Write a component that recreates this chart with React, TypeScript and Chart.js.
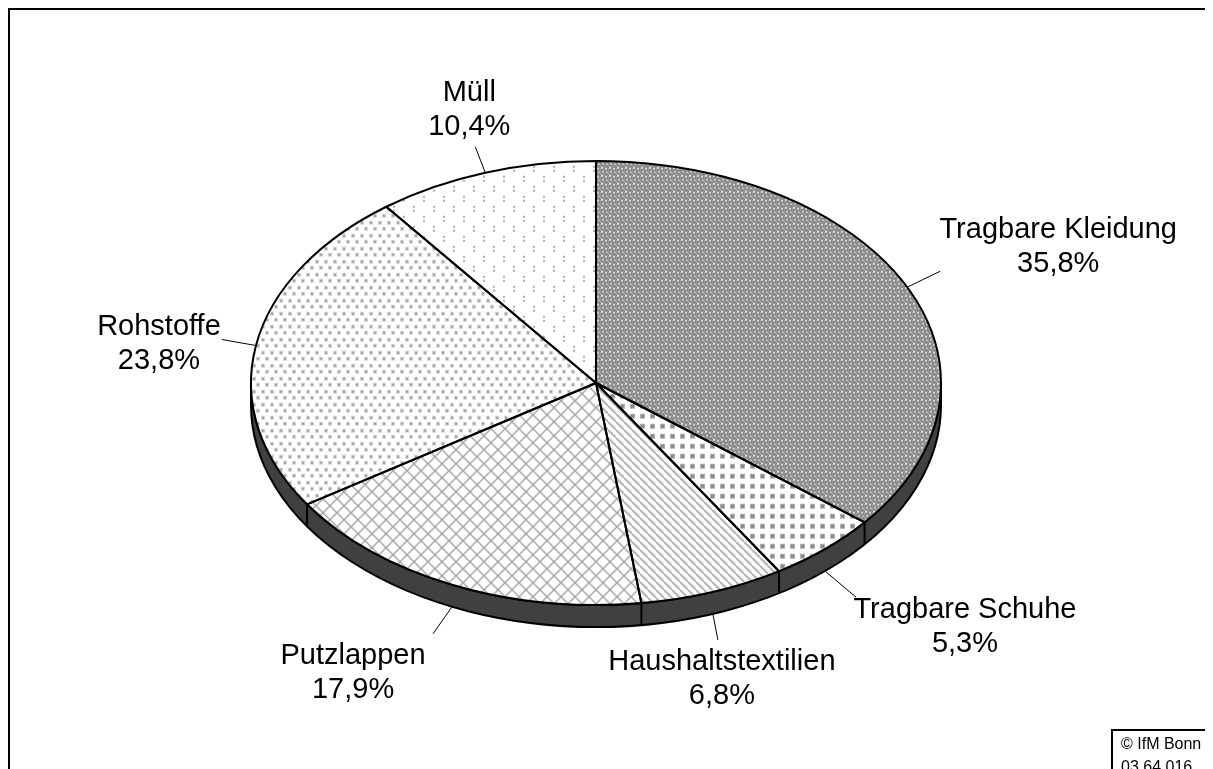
import React, { useEffect, useRef } from 'react';
import { Chart, registerables } from 'chart.js';

Chart.register(...registerables);

// ---- data ----
const categories = [
  'Tragbare Kleidung',
  'Tragbare Schuhe',
  'Haushaltstextilien',
  'Putzlappen',
  'Rohstoffe',
  'Müll',
];
const shares = [35.8, 5.3, 6.8, 17.9, 23.8, 10.4];

// ---- layout / style ----
const W = 1205;
const H = 761;
const K = 222 / 345; // vertical squash of the pie (tilt)
const DEPTH = 22;
const FONT = '29px "Liberation Sans", Arial, sans-serif';
// offsets from the slice's outer anchor point
const leaderEnds: [number, number][] = [
  [33, -16],
  [31, 26],
  [5, 26],
  [-19, 27],
  [-34, -6],
  [-10, -26],
];
const labelCenters: [number, number][] = [
  [151, -40],
  [140, 56],
  [9, 65],
  [-99, 66],
  [-97, -2],
  [-16, -63],
];

const fmt = (v: number) => v.toFixed(1).replace('.', ',') + '%';

function makeTile(w: number, h: number, draw: (g: CanvasRenderingContext2D) => void) {
  const c = document.createElement('canvas');
  c.width = w;
  c.height = h;
  const g = c.getContext('2d')!;
  draw(g);
  return c;
}

function makePatterns(): CanvasPattern[] {
  const tmp = document.createElement('canvas').getContext('2d')!;
  const pat = (tile: HTMLCanvasElement) => {
    const p = tmp.createPattern(tile, 'repeat')!;
    p.setTransform(new DOMMatrix([1, 0, 0, 1 / K, 0, 0]));
    return p;
  };
  const kleidung = makeTile(8, 8, (g) => {
    g.fillStyle = '#8a8a8a';
    g.fillRect(0, 0, 8, 8);
    const dots: [number, number, number, number, string][] = [
      [1, 1, 2, 2, '#dedede'],
      [5, 2, 2, 2, '#cfcfcf'],
      [2, 5, 2, 2, '#c6c6c6'],
      [6, 6, 2, 1, '#e0e0e0'],
      [0, 7, 1, 1, '#b0b0b0'],
      [4, 0, 1, 1, '#b8b8b8'],
      [0, 3, 1, 1, '#aaaaaa'],
    ];
    dots.forEach(([x, y, w, h, c]) => {
      g.fillStyle = c;
      g.fillRect(x, y, w, h);
    });
  });
  const schuhe = makeTile(10, 10, (g) => {
    g.fillStyle = '#fff';
    g.fillRect(0, 0, 10, 10);
    g.fillStyle = '#b0b0b0';
    g.fillRect(2, 2, 5, 5);
    g.fillStyle = '#888888';
    g.fillRect(3, 3, 3, 3);
  });
  const haushalt = makeTile(8, 8, (g) => {
    g.fillStyle = '#fff';
    g.fillRect(0, 0, 8, 8);
    g.strokeStyle = '#b0b0b0';
    g.lineWidth = 2;
    [-8, 0, 8].forEach((x0) => {
      g.beginPath();
      g.moveTo(x0, 0);
      g.lineTo(x0 + 8, 8);
      g.stroke();
    });
  });
  const putz = makeTile(14, 14, (g) => {
    g.fillStyle = '#fff';
    g.fillRect(0, 0, 14, 14);
    g.strokeStyle = '#a4a4a4';
    g.lineWidth = 1.4;
    [-14, 0, 14].forEach((x0) => {
      g.beginPath();
      g.moveTo(x0, 0);
      g.lineTo(x0 + 14, 14);
      g.stroke();
      g.beginPath();
      g.moveTo(x0 + 14, 0);
      g.lineTo(x0, 14);
      g.stroke();
    });
  });
  const roh = makeTile(9, 13, (g) => {
    g.fillStyle = '#fff';
    g.fillRect(0, 0, 9, 13);
    g.fillStyle = '#d4d4d4';
    g.fillRect(1, 1, 4, 4);
    g.fillRect(5, 7, 4, 4);
    g.fillStyle = '#a0a0a0';
    g.fillRect(2, 2, 2, 2);
    g.fillRect(6, 8, 2, 2);
  });
  const muell = makeTile(20, 20, (g) => {
    g.fillStyle = '#fff';
    g.fillRect(0, 0, 20, 20);
    g.fillStyle = '#b0b0b0';
    g.fillRect(5, 4, 2, 2);
    g.fillRect(5, 8, 2, 2);
    g.fillRect(15, 14, 2, 2);
    g.fillRect(15, 18, 2, 2);
  });
  return [kleidung, schuhe, haushalt, putz, roh, muell].map(pat);
}

const pie3d = {
  id: 'pie3d',
  beforeDatasetsDraw(chart: any) {
    const ctx: CanvasRenderingContext2D = chart.ctx;
    const arcs = chart.getDatasetMeta(0).data;
    const p0 = arcs[0].getProps(['x', 'y', 'outerRadius'], true);
    const cx = p0.x;
    const cy = p0.y;
    const rx = p0.outerRadius;
    const ry = rx * K;
    ctx.save();
    ctx.beginPath();
    ctx.ellipse(cx, cy, rx, ry, 0, 0, Math.PI, false);
    ctx.lineTo(cx - rx, cy + DEPTH);
    ctx.ellipse(cx, cy + DEPTH, rx, ry, 0, Math.PI, 0, true);
    ctx.closePath();
    ctx.fillStyle = '#404040';
    ctx.fill();
    ctx.lineWidth = 2;
    ctx.strokeStyle = '#000';
    ctx.lineJoin = 'round';
    ctx.stroke();
    arcs.forEach((a: any) => {
      const { endAngle } = a.getProps(['endAngle'], true);
      let ang = endAngle % (2 * Math.PI);
      if (ang < 0) ang += 2 * Math.PI;
      if (ang > 0.001 && ang < Math.PI - 0.001) {
        const px = cx + rx * Math.cos(ang);
        const py = cy + ry * Math.sin(ang);
        ctx.beginPath();
        ctx.moveTo(px, py);
        ctx.lineTo(px, py + DEPTH);
        ctx.stroke();
      }
    });
    ctx.restore();
    ctx.save();
    ctx.translate(cx, cy);
    ctx.scale(1, K);
    ctx.translate(-cx, -cy);
  },
  afterDatasetsDraw(chart: any) {
    const ctx: CanvasRenderingContext2D = chart.ctx;
    ctx.restore();
    const arcs = chart.getDatasetMeta(0).data;
    ctx.save();
    ctx.lineWidth = 2;
    ctx.strokeStyle = '#000';
    ctx.lineJoin = 'round';
    arcs.forEach((a: any) => {
      const p = a.getProps(['x', 'y', 'startAngle', 'endAngle', 'outerRadius'], true);
      ctx.beginPath();
      ctx.moveTo(p.x, p.y);
      ctx.ellipse(p.x, p.y, p.outerRadius, p.outerRadius * K, 0, p.startAngle, p.endAngle, false);
      ctx.closePath();
      ctx.stroke();
    });
    // labels
    ctx.font = FONT;
    ctx.fillStyle = '#000';
    ctx.textAlign = 'center';
    ctx.textBaseline = 'middle';
    const values: number[] = chart.data.datasets[0].data;
    arcs.forEach((a: any, i: number) => {
      const p = a.getProps(['x', 'y', 'startAngle', 'endAngle', 'outerRadius'], true);
      const mid = (p.startAngle + p.endAngle) / 2;
      const rx = p.outerRadius;
      const ry = rx * K;
      const ax = p.x + rx * Math.cos(mid);
      let ay = p.y + ry * Math.sin(mid);
      if (Math.sin(mid) > 0) ay += DEPTH;
      const [lx, ly] = leaderEnds[i];
      ctx.lineWidth = 1;
      ctx.beginPath();
      ctx.moveTo(ax, ay);
      ctx.lineTo(ax + lx, ay + ly);
      ctx.stroke();
      const [tx, ty] = labelCenters[i];
      ctx.fillText(chart.data.labels[i], ax + tx, ay + ty - 17);
      ctx.fillText(fmt(values[i]), ax + tx, ay + ty + 17);
    });
    ctx.restore();
  },
  afterDraw(chart: any) {
    const ctx: CanvasRenderingContext2D = chart.ctx;
    ctx.save();
    ctx.strokeStyle = '#000';
    ctx.lineWidth = 2;
    // outer frame (top and left edges visible)
    ctx.beginPath();
    ctx.moveTo(1, H);
    ctx.lineTo(1, 1);
    ctx.lineTo(W, 1);
    ctx.stroke();
    // copyright box
    ctx.beginPath();
    ctx.moveTo(1104, H);
    ctx.lineTo(1104, 722);
    ctx.lineTo(W, 722);
    ctx.stroke();
    ctx.font = '16px "Liberation Sans", Arial, sans-serif';
    ctx.fillStyle = '#000';
    ctx.textAlign = 'left';
    ctx.textBaseline = 'alphabetic';
    ctx.fillText('© IfM Bonn', 1113, 741);
    ctx.fillText('03 64 016', 1113, 764);
    ctx.restore();
  },
};

export default function App() {
  const ref = useRef<HTMLCanvasElement>(null);
  useEffect(() => {
    document.body.style.overflow = 'hidden';
    document.documentElement.style.overflow = 'hidden';
    const canvas = ref.current!;
    const chart = new Chart(canvas, {
      type: 'pie',
      data: {
        labels: categories,
        datasets: [
          {
            data: shares,
            backgroundColor: makePatterns() as any,
            borderWidth: 0,
            clip: false as any,
          },
        ],
      },
      options: {
        responsive: false,
        animation: false,
        devicePixelRatio: 1,
        events: [],
        layout: { padding: { left: 243, right: 272, top: 30, bottom: 41 } },
        plugins: { legend: { display: false }, tooltip: { enabled: false } },
      },
      plugins: [pie3d as any],
    });
    return () => chart.destroy();
  }, []);
  return (
    <div style={{ width: W, height: H }}>
      <canvas ref={ref} width={W} height={H} style={{ display: 'block' }} />
    </div>
  );
}
